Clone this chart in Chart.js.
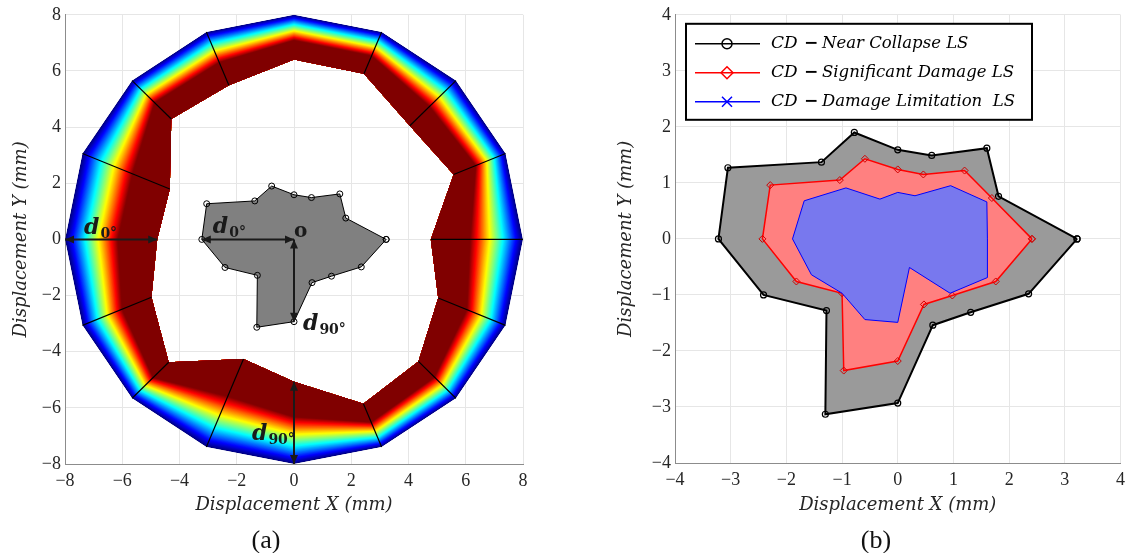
<!DOCTYPE html>
<html>
<head>
<meta charset="utf-8">
<script src="https://cdn.jsdelivr.net/npm/chart.js@4"></script>
<style>
  body { margin: 0; background: #fff; }
  #wrap { position: relative; width: 1131px; height: 553px; }
  canvas { position: absolute; top: 0; }
  #chartA { left: 0; }
  #chartB { left: 570px; }
  .cap { position: absolute; font: 26px "Liberation Serif", serif; color: #111; transform: translate(-50%, -50%); }
</style>
</head>
<body>
<div id="wrap">
  <canvas id="chartA" width="545" height="553"></canvas>
  <canvas id="chartB" width="561" height="553"></canvas>
  <div class="cap" style="left:266px; top:540px">(a)</div>
  <div class="cap" style="left:876px; top:540px">(b)</div>
</div>
<script>
// directions of the capacity points (deg, counter-clockwise from +X)
const angles = [0, 22.5, 45, 67.5, 90, 112.5, 135, 157.5, 180, 202.5, 225, 247.5, 270, 292.5, 315, 337.5];

// Near Collapse
const ncX = [3.22, 1.81, 1.60, 0.61, 0.00, -0.78, -1.37, -3.05, -3.22, -2.41, -1.28, -1.30, 0.00, 0.63, 1.31, 2.35];
const ncY = [0.00, 0.76, 1.62, 1.49, 1.59, 1.90, 1.37, 1.27, 0.00, -1.00, -1.28, -3.13, -2.93, -1.54, -1.31, -0.98];
// Significant Damage
const sdX = [2.41, 1.69, 1.20, 0.46, 0.00, -0.59, -1.04, -2.29, -2.43, -1.82, -1.00, -0.97, 0.00, 0.47, 0.98, 1.76];
const sdY = [0.00, 0.73, 1.22, 1.15, 1.24, 1.43, 1.05, 0.96, 0.00, -0.76, -0.97, -2.35, -2.18, -1.17, -1.01, -0.76];
// Damage Limitation
const dlX = [1.61, 1.60, 0.95, 0.31, 0.00, -0.32, -0.93, -1.68, -1.89, -1.55, -1.00, -0.59, 0.00, 0.21, 0.94, 1.61];
const dlY = [0.00, 0.66, 0.95, 0.77, 0.83, 0.71, 0.91, 0.68, 0.00, -0.64, -0.97, -1.44, -1.49, -0.51, -0.97, -0.69];

const ticksA = [-8, -6, -4, -2, 0, 2, 4, 6, 8];
const ticksB = [-4, -3, -2, -1, 0, 1, 2, 3, 4];

const ringRadius = 8;     // outer edge of the demand ring
const colourSpan = 0.57;  // share of the ring width covered by the colour ramp

const legendLabels = ['Near Collapse LS', 'Significant Damage LS', 'Damage Limitation  LS'];

function closed(xs, ys) {
  const pts = xs.map((x, i) => ({ x: x, y: ys[i] }));
  pts.push({ x: xs[0], y: ys[0] });
  return pts;
}

function jet(t) {
  const c = v => Math.round(255 * Math.max(0, Math.min(1, v)));
  return 'rgb(' + c(1.5 - Math.abs(4 * t - 3)) + ',' + c(1.5 - Math.abs(4 * t - 2)) + ',' + c(1.5 - Math.abs(4 * t - 1)) + ')';
}

function axis(min, max, ticks, title, isY, size, titlePad) {
  return {
    type: 'linear', min: min, max: max,
    afterBuildTicks: s => { s.ticks = ticks.map(v => ({ value: v })); },
    afterFit: s => { if (isY) s.width = size; else s.height = size; },
    grid: { color: '#e6e6e6', lineWidth: 1, drawTicks: false },
    border: { color: '#8c8c8c', width: 1 },
    ticks: {
      font: { family: 'Liberation Serif', size: 18 },
      color: '#262626',
      padding: isY ? 4 : 6,
      callback: v => String(v).replace('-', '\u2212')
    },
    title: {
      display: true, text: title, color: '#262626',
      font: { family: 'DejaVu Serif', style: 'italic', size: 18 },
      padding: isY ? { top: titlePad, bottom: 0 } : { top: 0, bottom: titlePad }
    }
  };
}

function arrow(ctx, x1, y1, x2, y2) {
  const a = Math.atan2(y2 - y1, x2 - x1), h = 9, w = 4;
  ctx.beginPath(); ctx.moveTo(x1, y1); ctx.lineTo(x2, y2); ctx.stroke();
  [[x2, y2, a], [x1, y1, a + Math.PI]].forEach(([px, py, g]) => {
    ctx.beginPath();
    ctx.moveTo(px, py);
    ctx.lineTo(px - h * Math.cos(g) + w * Math.sin(g), py - h * Math.sin(g) - w * Math.cos(g));
    ctx.lineTo(px - h * Math.cos(g) - w * Math.sin(g), py - h * Math.sin(g) + w * Math.cos(g));
    ctx.closePath(); ctx.fill();
  });
}

function dLabel(ctx, x, y, sub) {
  ctx.font = 'bold italic 22px "DejaVu Serif"';
  ctx.fillText('d', x, y);
  const w = ctx.measureText('d').width;
  ctx.font = 'bold 14px "DejaVu Serif"';
  ctx.fillText(sub, x + w + 1, y + 4);
}

// jet-coloured ring between the outer circle and the capacity offset inwards
const ringPlugin = {
  id: 'ring',
  beforeDatasetsDraw(chart) {
    const { ctx, scales: { x, y } } = chart;
    const outer = [], inner = [];
    angles.forEach((a, i) => {
      const r = a * Math.PI / 180, d = Math.hypot(ncX[i], ncY[i]);
      outer.push([ringRadius * Math.cos(r), ringRadius * Math.sin(r)]);
      inner.push([(ringRadius - d) * Math.cos(r), (ringRadius - d) * Math.sin(r)]);
    });
    const at = s => outer.map((p, i) => [
      x.getPixelForValue(p[0] + s * (inner[i][0] - p[0])),
      y.getPixelForValue(p[1] + s * (inner[i][1] - p[1]))
    ]);
    const trace = pts => {
      ctx.moveTo(pts[0][0], pts[0][1]);
      for (let i = 1; i < pts.length; i++) ctx.lineTo(pts[i][0], pts[i][1]);
      ctx.closePath();
    };
    ctx.save();
    ctx.beginPath(); trace(at(0)); trace(at(1)); ctx.clip('evenodd');
    const steps = 120;
    for (let k = 0; k <= steps; k++) {
      const s = k / steps;
      ctx.beginPath(); trace(at(s));
      ctx.fillStyle = jet(Math.min(1, s / colourSpan));
      ctx.fill();
      if (s >= colourSpan) break;
    }
    ctx.restore();

    const o = at(0), n = at(1);
    ctx.save();
    ctx.strokeStyle = '#000'; ctx.lineWidth = 1.2;
    angles.forEach((a, i) => {
      if (a === 90 || a === 180 || a === 270) return;
      ctx.beginPath(); ctx.moveTo(o[i][0], o[i][1]); ctx.lineTo(n[i][0], n[i][1]); ctx.stroke();
    });
    ctx.restore();
  }
};

// d0 / d90 dimension arrows and labels
const dimPlugin = {
  id: 'dims',
  afterDatasetsDraw(chart) {
    const { ctx, scales: { x, y } } = chart;
    const d0 = Math.hypot(ncX[8], ncY[8]), d90 = Math.hypot(ncX[12], ncY[12]);
    const x0 = x.getPixelForValue(0), y0 = y.getPixelForValue(0);
    ctx.save();
    ctx.strokeStyle = '#1a1a1a'; ctx.fillStyle = '#1a1a1a'; ctx.lineWidth = 2;
    arrow(ctx, x.getPixelForValue(-ringRadius), y0, x.getPixelForValue(-ringRadius + d0), y0);
    arrow(ctx, x.getPixelForValue(-d0), y0, x0, y0);
    arrow(ctx, x0, y0, x0, y.getPixelForValue(-d90));
    arrow(ctx, x0, y.getPixelForValue(-ringRadius), x0, y.getPixelForValue(-ringRadius + d90));
    ctx.textBaseline = 'alphabetic';
    dLabel(ctx, x.getPixelForValue(-ringRadius) + 19, y0 - 5, '0\u00b0');
    dLabel(ctx, x.getPixelForValue(-d0) + 11, y0 - 6, '0\u00b0');
    dLabel(ctx, x0 + 9, y.getPixelForValue(-d90) + 8, '90\u00b0');
    dLabel(ctx, x0 - 42, y.getPixelForValue(-ringRadius) - 24, '90\u00b0');
    ctx.font = 'bold 20px "DejaVu Serif"';
    ctx.fillText('o', x0 + 0, y0 - 2);
    ctx.restore();
  }
};

// boxed legend in the upper-left corner of the plot
const legendPlugin = {
  id: 'boxLegend',
  afterDraw(chart) {
    const { ctx, chartArea: ca } = chart;
    const bx = ca.left + 11, by = ca.top + 9, bw = 346, bh = 96;
    ctx.save();
    ctx.fillStyle = '#fff'; ctx.fillRect(bx, by, bw, bh);
    ctx.strokeStyle = '#000'; ctx.lineWidth = 2; ctx.strokeRect(bx, by, bw, bh);
    const colours = ['#000', '#ff0000', '#0000ff'];
    legendLabels.forEach((label, i) => {
      const ry = by + 20 + i * 29, mx = bx + 41;
      ctx.strokeStyle = colours[i]; ctx.lineWidth = 1.5;
      ctx.beginPath(); ctx.moveTo(bx + 9, ry); ctx.lineTo(bx + 74, ry); ctx.stroke();
      ctx.beginPath();
      if (i === 0) {
        ctx.arc(mx, ry, 5, 0, Math.PI * 2);
      } else if (i === 1) {
        ctx.moveTo(mx, ry - 6); ctx.lineTo(mx + 6, ry); ctx.lineTo(mx, ry + 6); ctx.lineTo(mx - 6, ry); ctx.closePath();
      } else {
        ctx.moveTo(mx - 5, ry - 5); ctx.lineTo(mx + 5, ry + 5); ctx.moveTo(mx + 5, ry - 5); ctx.lineTo(mx - 5, ry + 5);
      }
      ctx.stroke();
      ctx.fillStyle = '#000'; ctx.textBaseline = 'middle';
      ctx.font = 'italic 17px "DejaVu Serif"';
      ctx.fillText('CD', bx + 85, ry);
      ctx.font = 'bold 17px "DejaVu Serif"';
      ctx.fillText('\u2212', bx + 118, ry);
      ctx.font = 'italic 16.5px "DejaVu Serif"';
      ctx.fillText(label, bx + 136, ry);
    });
    ctx.restore();
  }
};

const common = {
  responsive: false, animation: false, events: [],
  plugins: { legend: { display: false }, tooltip: { enabled: false } }
};

new Chart(document.getElementById('chartA'), {
  type: 'scatter',
  data: {
    datasets: [{
      data: closed(ncX, ncY), showLine: true, tension: 0, fill: 'shape',
      borderColor: '#000', borderWidth: 1, backgroundColor: '#808080',
      pointRadius: 3, pointBorderColor: '#000', pointBorderWidth: 1, pointBackgroundColor: 'rgba(0,0,0,0)'
    }]
  },
  options: Object.assign({}, common, {
    layout: { padding: { left: 0, top: 9, right: 22, bottom: 0 } },
    scales: {
      x: axis(-8, 8, ticksA, 'Displacement X (mm)', false, 89, 37),
      y: axis(-8, 8, ticksA, 'Displacement Y (mm)', true, 65, 11)
    }
  }),
  plugins: [ringPlugin, dimPlugin]
});

new Chart(document.getElementById('chartB'), {
  type: 'scatter',
  data: {
    datasets: [{
      label: 'CD - Damage Limitation LS', order: 1,
      data: closed(dlX, dlY), showLine: true, tension: 0, fill: 'shape',
      borderColor: '#0000ff', borderWidth: 1, backgroundColor: '#7878ee', pointRadius: 0
    }, {
      label: 'CD - Significant Damage LS', order: 2,
      data: closed(sdX, sdY), showLine: true, tension: 0, fill: 'shape',
      borderColor: '#ff0000', borderWidth: 1.5, backgroundColor: '#ff8080',
      pointStyle: 'rectRot', pointRadius: 3.5, pointBorderColor: '#d00000', pointBorderWidth: 1, pointBackgroundColor: 'rgba(0,0,0,0)'
    }, {
      label: 'CD - Near Collapse LS', order: 3,
      data: closed(ncX, ncY), showLine: true, tension: 0, fill: 'shape',
      borderColor: '#000', borderWidth: 2, backgroundColor: '#9a9a9a',
      pointRadius: 3, pointBorderColor: '#000', pointBorderWidth: 1.2, pointBackgroundColor: 'rgba(0,0,0,0)'
    }]
  },
  options: Object.assign({}, common, {
    layout: { padding: { left: 0, top: 11, right: 2, bottom: 0 } },
    scales: {
      x: axis(-4, 4, ticksB, 'Displacement X (mm)', false, 90, 37),
      y: axis(-4, 4, ticksB, 'Displacement Y (mm)', true, 105, 46)
    }
  }),
  plugins: [legendPlugin]
});
</script>
</body>
</html>
